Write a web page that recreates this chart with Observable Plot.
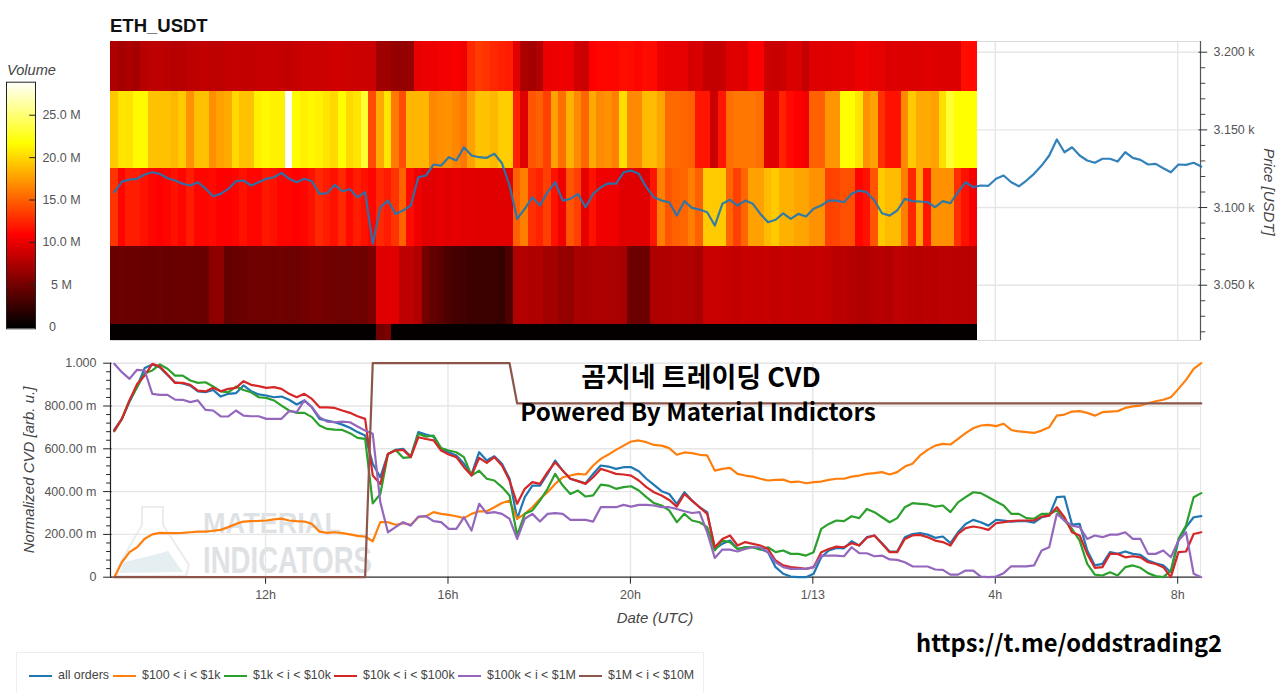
<!DOCTYPE html>
<html><head><meta charset="utf-8">
<script src="https://cdn.jsdelivr.net/npm/d3@7"></script>
<script src="https://cdn.jsdelivr.net/npm/@observablehq/plot@0.6"></script>
<style>
html,body{margin:0;padding:0;background:#fff;width:1280px;height:693px;overflow:hidden;font-family:"Liberation Sans",Arial,sans-serif}
.abs{position:absolute;white-space:nowrap}
.ax{color:#444;font-style:italic;font-size:15px}
.ko{color:#000;font-family:"Noto Sans CJK KR","Noto Sans",sans-serif;font-weight:700}
#legend{position:absolute;left:16px;top:652px;width:688px;height:41px;border:1px solid #eee;border-bottom:none;box-sizing:border-box;color:#444;font-size:12.4px}
#legend span.s{position:absolute;top:22px;height:2px;width:23px}
#legend span.t{position:absolute;top:15px;white-space:nowrap}
</style></head><body>
<svg class="abs" style="left:0;top:0;z-index:0" width="1280" height="693" aria-hidden="true">
  <path d="M117 576 L119 565 L142 525 L142 507 L163 507 L163 525 L189 565 L186 576 Z" fill="none" stroke="#ececec" stroke-width="2"/>
  <path d="M119 573 L124 562 L150 556 L168 551 L183 572 Z" fill="#e5eff1"/>
  <text x="203" y="533" font-family="Liberation Sans Narrow,Liberation Sans" font-weight="700" font-size="29" fill="#dfe2e5" textLength="138" lengthAdjust="spacingAndGlyphs">MATERIAL</text>
  <text x="203" y="573" font-family="Liberation Sans Narrow,Liberation Sans" font-weight="700" font-size="37" fill="#dfe2e5" textLength="169" lengthAdjust="spacingAndGlyphs">INDICATORS</text>
</svg>
<div id="upper" class="abs" style="left:0;top:0;z-index:1"></div>
<div id="lower" class="abs" style="left:0;top:345px;z-index:1"></div>
<div id="bar" class="abs" style="left:0;top:75px;z-index:1"></div>
<div class="abs" style="left:110px;top:15px;font-weight:700;font-size:18.5px;color:#111;z-index:2">ETH_USDT</div>
<div class="abs ax" style="left:7px;top:62px;font-size:14.6px;z-index:2">Volume</div>
<div class="abs ax" style="left:28px;top:470px;transform:translate(-50%,-50%) rotate(-90deg);z-index:2">Normalized CVD [arb. u.]</div>
<div class="abs ax" style="left:655px;top:617px;transform:translate(-50%,-50%);z-index:2">Date (UTC)</div>
<div class="abs ax" style="left:1269px;top:192px;transform:translate(-50%,-50%) rotate(90deg);z-index:2">Price [USDT]</div>
<div class="abs ko" style="left:701px;top:375px;transform:translate(-50%,-50%);font-size:27px;z-index:3">곰지네 트레이딩 CVD</div>
<div class="abs ko" style="left:698px;top:410px;transform:translate(-50%,-50%);font-size:24.2px;z-index:3">Powered By Material Indictors</div>
<div class="abs ko" style="left:1069px;top:642px;transform:translate(-50%,-50%);font-size:23.7px;z-index:3">https://t.me/oddstrading2</div>
<div id="legend"></div>
<script>
const priceUSDT = [
3109.9,3116.7,3118,3118.5,3121.3,3122.7,3121.7,3118.9,3117.4,3115.3,
3114.2,3116.3,3112.2,3107.3,3108.8,3112,3116.9,3117.4,3114.2,3116.3,
3118.5,3119.5,3122.3,3118.5,3116.3,3118.5,3116.9,3108.8,3109.2,3114.6,
3110.5,3111.8,3106.6,3109.9,3076.6,3100.2,3104.5,3095.9,3098.1,3101.3,
3119.5,3120.6,3127.7,3127,3132.4,3130.3,3138.8,3133.5,3132.4,3132,
3134.6,3128.5,3114.2,3092.7,3099.2,3106.6,3101.3,3109.9,3116.3,3104.5,
3105.6,3108.8,3100.2,3108.8,3113.1,3115.6,3115.3,3122.7,3123.8,3121.7,
3113.1,3106.6,3104.5,3103.4,3094.8,3104.1,3099.8,3098.7,3097,3088.4,
3102.4,3105,3101.3,3104.5,3102.4,3095.9,3090.5,3092.1,3096.3,3092.7,
3095.9,3094.2,3099.2,3101.3,3104.5,3104.5,3103.4,3108.8,3110.9,3109.9,
3104.5,3096.3,3094.8,3098.1,3105.6,3104.1,3103.9,3103.4,3100.2,3104.1,
3102.8,3109.9,3116.3,3113.1,3114.2,3114,3118.5,3120.6,3116.3,3113.7,
3117.4,3121.7,3127,3133.5,3143.8,3135.6,3138.8,3133.5,3130.3,3128.8,
3131.4,3131.4,3129.6,3135.6,3132,3130.7,3127.7,3128.1,3125.3,3122.7,
3127.7,3127.5,3128.8,3126.4];

const volTop = [
7.4,7,7.3,7,7.8,8,8,7.9,7.6,7.8,
8,8,8.2,8,8,8.2,8.3,8.2,8.2,8.3,
8.4,8.4,8.3,8.2,8.3,8.6,8.6,8.6,8.6,8.8,
8.8,8.6,8.6,8.6,8.6,6.8,6.8,6.2,6.2,6.3,
9.8,10,10,10.3,10.3,10.5,10.2,12.5,13.3,13,
12.5,12.2,12,9.5,7.2,7,7.5,10,10,10.2,
10,8.8,8.6,10.8,11,11,11,11.4,11.3,11,
11.3,11.2,10,9.8,9.8,9.8,9,9.2,8.4,8.2,
8.4,9.4,9.5,9.3,10.6,10.6,8.6,8.5,8.6,9.2,
9.2,8.3,9.4,9.5,9.4,9.5,9.6,9.5,10,10,
9.8,9.8,9.3,9.4,9.3,9.3,9.3,9.5,9.4,9.3,
9.3,9.4,11.4,11.2];
const volHigh = [
19.3,20.5,20.4,21.4,21.4,19,19,19,18.6,19.4,
17,18.9,19,16.8,17.6,18,20,19,19,21,
21.3,21,21,28.8,21.5,21,21.3,21,20.5,20,
21.5,20,20.5,23,14,18,20.5,16,14,18.5,
18.5,18.5,16.5,16.8,17,16.5,15.8,17.6,19,19,
18.6,19.5,19.5,12.2,9.5,14.4,14.9,13.5,17.6,15.5,
18.3,16.6,15.1,18,16.6,16.9,16.2,20.2,16.6,16.6,
18.7,18.7,17.8,15.3,15.3,15.1,14.9,11.7,11.7,8.6,
11.7,15.5,15.8,15.8,15.8,15.5,9.5,9.5,12.2,11.2,
10.8,10.2,14.9,14.9,17.1,17.1,21.6,21.6,20.5,16.9,
17.6,12.8,11.5,11.5,16.6,19.4,18,18,17.6,20.2,
23,21.6,21.6,21.6];
const volMid = [
13,11,12,12,11.5,11,10.8,11,11.5,11,
12,11,11,11.2,10.8,10.8,11,11.5,11,11,
11.8,11.5,11,11,10.8,11,11.5,12.5,12,11.5,
12.5,11.2,12,11.5,11,12.5,12,13,15,11.2,
10.2,9.6,9.6,9.8,9.6,9.8,9.6,9.6,9.5,9.6,
9.5,9.5,9.5,14.9,16.2,12.8,12.2,13.5,11.5,10.2,
14.4,13.5,9.8,11.5,10.2,10.2,10.2,9.5,9.5,9.5,
9.5,11.7,16.2,14.4,14.9,15.1,16.2,14.9,19.4,19.4,
19.4,15.1,13.5,15.1,17.6,17.6,18.7,19.4,18.3,18.3,
17.8,17.8,17,17,13.5,13.7,14.2,14.2,11,11.5,
14.4,19.4,18.7,18.7,16.2,12.4,17.8,11.7,16.9,16.9,
16.9,12.8,11.5,10.4];
const volLow = [
4.4,4.6,4.5,4.5,4.4,4.4,4.5,4.3,4.4,4.4,
4.5,4.4,4.4,6,6,4.2,4.4,4.5,4.7,4.7,
4.7,4.7,4.8,4.6,4.6,4.8,5,5,4.8,4.8,
4.6,4.6,4.8,4.6,5.2,9.5,9.5,9.5,8,8,
7.5,5,4.2,3.8,3.2,2.9,2.8,2.6,2.6,2.6,
2.5,2.2,3.2,7.5,7.6,7.4,7.5,6.9,6.9,6.3,
6.2,7.2,7.1,7.2,7.2,7.2,7.2,7.1,4.7,4.5,
4.6,7.3,7.5,7.5,7.6,7.5,7.5,7.1,8.5,8.5,
8.5,8.3,8.2,8.5,8.4,8.4,8.5,8.2,8.3,8.4,
8.2,8.3,8.2,8.4,8.2,7.9,7.9,7.7,7.5,7.4,
7.7,7.8,7.6,8,7.9,7.8,7.7,7.9,7.8,8,
8,7.9,7.9,7.8];
const volBottom = [
.2,.2,.2,.2,.2,.2,.2,.2,.2,.2,
.2,.2,.2,.2,.2,.2,.2,.2,.2,.2,
.2,.2,.2,.2,.2,.2,.2,.2,.2,.2,
.2,.2,.2,.2,.2,4.8,5.2,.2,.2,.2,
.2,.2,.2,.2,.2,.2,.2,.2,.2,.2,
.2,.2,.2,.2,.2,.2,.2,.2,.2,.2,
.2,.2,.2,.2,.2,.2,.2,.2,.2,.2,
.2,.2,.2,.2,.2,.2,.2,.2,.2,.2,
.2,.2,.2,.2,.2,.2,.2,.2,.2,.2,
.2,.2,.2,.2,.2,.2,.2,.2,.2,.2,
.2,.2,.2,.2,.2,.2,.2,.2,.2,.2,
.2,.2,.2,.2];
const priceBandEdges = [3206.9,3175,3125,3075,3025,3014.4];

const cvdAll = [
.69,.74,.82,.89,.978,.994,.98,.945,.91,.905,
.895,.868,.865,.875,.844,.857,.86,.896,.869,.854,
.849,.841,.844,.829,.807,.826,.794,.74,.732,.724,
.713,.698,.678,.662,.53,.467,.576,.595,.6,.564,
.678,.667,.657,.6,.584,.569,.53,.48,.584,.545,
.565,.53,.46,.273,.374,.428,.428,.483,.545,.498,
.46,.449,.439,.483,.522,.517,.506,.514,.514,.495,
.46,.431,.402,.389,.343,.397,.358,.327,.304,.132,
.156,.171,.132,.14,.14,.132,.117,.047,.016,.003,
0,0,.016,.093,.125,.137,.135,.168,.148,.187,
.195,.159,.12,.12,.187,.202,.206,.199,.184,.19,
.159,.21,.249,.268,.257,.241,.268,.265,.26,.262,
.262,.255,.28,.288,.374,.377,.246,.249,.125,.055,
.062,.117,.109,.12,.109,.104,.078,.065,.055,.023,
.171,.234,.28,.285];
const cvd100to1k = [
0,.07,.117,.14,.18,.2,.207,.206,.206,.207,
.21,.213,.213,.217,.221,.234,.249,.26,.262,.263,
.265,.27,.274,.265,.262,.26,.249,.213,.207,.21,
.206,.2,.193,.19,.168,.257,.257,.245,.252,.245,
.28,.285,.304,.296,.291,.285,.276,.296,.308,.308,
.327,.347,.358,.273,.296,.327,.366,.397,.436,.467,
.475,.483,.48,.522,.553,.573,.595,.615,.634,.639,
.631,.618,.615,.603,.572,.583,.58,.572,.569,.498,
.506,.511,.483,.475,.47,.46,.452,.455,.456,.444,
.447,.439,.444,.447,.455,.46,.46,.47,.475,.483,
.486,.491,.48,.491,.517,.53,.569,.595,.615,.623,
.62,.646,.673,.696,.709,.712,.706,.717,.688,.681,
.678,.674,.685,.701,.755,.76,.774,.776,.768,.755,
.771,.774,.776,.791,.798,.802,.813,.822,.829,.841,
.88,.922,.974,1];
const cvd1kto10k = [
.682,.74,.826,.888,.953,.966,.994,.974,.942,.942,
.919,.908,.911,.891,.868,.864,.891,.875,.864,.841,
.838,.826,.802,.779,.768,.768,.748,.709,.693,.69,
.688,.673,.651,.646,.345,.389,.576,.595,.558,.561,
.67,.657,.662,.603,.592,.584,.561,.475,.498,.46,
.452,.421,.382,.195,.296,.312,.358,.413,.483,.428,
.389,.405,.377,.382,.433,.428,.413,.421,.425,.405,
.374,.346,.335,.312,.257,.296,.265,.257,.234,.125,
.171,.164,.132,.14,.14,.129,.14,.117,.125,.109,
.109,.101,.117,.226,.249,.265,.262,.285,.276,.319,
.304,.28,.257,.276,.327,.346,.343,.34,.33,.335,
.304,.35,.374,.397,.393,.374,.354,.335,.296,.296,
.276,.273,.296,.296,.312,.265,.226,.171,.062,.012,
.008,.023,.008,.047,.055,.044,.019,.005,0,.031,
.179,.241,.374,.393];
const cvd10kto100k = [
.685,.74,.826,.903,.942,.997,.984,.947,.908,.908,
.899,.872,.868,.885,.869,.88,.885,.916,.899,.893,
.885,.888,.88,.857,.841,.857,.833,.794,.794,.791,
.779,.768,.752,.74,.475,.436,.576,.592,.595,.561,
.654,.646,.639,.592,.573,.561,.514,.475,.558,.534,
.561,.522,.452,.343,.413,.444,.436,.491,.537,.498,
.46,.449,.436,.467,.506,.495,.483,.48,.475,.452,
.421,.397,.382,.361,.33,.389,.358,.327,.296,.14,
.179,.195,.148,.164,.156,.148,.132,.078,.055,.047,
.044,.039,.047,.117,.132,.143,.14,.159,.148,.184,
.195,.156,.117,.117,.179,.195,.198,.187,.171,.164,
.148,.202,.229,.237,.231,.221,.252,.257,.262,.265,
.265,.265,.283,.288,.327,.28,.21,.195,.109,.044,
.047,.109,.109,.093,.098,.093,.07,.062,.047,0,
.117,.12,.202,.21];
const cvd100kto1M = [
.997,.958,.927,.969,.966,.857,.852,.852,.83,.829,
.818,.826,.782,.779,.751,.751,.779,.755,.752,.752,
.74,.74,.74,.776,.771,.826,.794,.748,.727,.724,
.727,.724,.704,.685,.67,.35,.21,.234,.257,.241,
.283,.285,.262,.257,.226,.226,.28,.218,.343,.299,
.304,.296,.273,.179,.273,.296,.26,.296,.299,.296,
.268,.268,.268,.26,.327,.327,.327,.338,.33,.338,
.338,.335,.327,.327,.319,.308,.3,.304,.21,.09,
.129,.129,.12,.132,.14,.14,.117,.07,.047,.039,
.039,.039,.047,.101,.101,.101,.098,.14,.112,.112,
.098,.101,.083,.081,.07,.051,.05,.05,.036,.034,
.012,.012,.031,.031,.003,0,.003,.019,.051,.051,
.051,.055,.125,.14,.296,.265,.241,.234,.179,.195,
.187,.199,.199,.21,.179,.179,.109,.109,.125,.093,
.171,.21,.016,0];
const cvd1Mto10M = [
0,0,0,0,0,0,0,0,0,0,
0,0,0,0,0,0,0,0,0,0,
0,0,0,0,0,0,0,0,0,0,
0,0,0,0,1,1,1,1,1,1,
1,1,1,1,1,1,1,1,1,1,
1,1,1,.812,.812,.812,.812,.812,.812,.812,
.812,.812,.812,.812,.812,.812,.812,.812,.812,.812,
.812,.812,.812,.812,.812,.812,.812,.812,.812,.812,
.812,.812,.812,.812,.812,.812,.812,.812,.812,.812,
.812,.812,.812,.812,.812,.812,.812,.812,.812,.812,
.812,.812,.812,.812,.812,.812,.812,.812,.812,.812,
.812,.812,.812,.812,.812,.812,.812,.812,.812,.812,
.812,.812,.812,.812,.812,.812,.812,.812,.812,.812,
.812,.812,.812,.812,.812,.812,.812,.812,.812,.812,
.812,.812,.812,.812];

const seriesNames = ["all orders","$100 < i < $1k","$1k < i < $10k","$10k < i < $100k","$100k < i < $1M","$1M < i < $10M"];
const seriesColors = ["#1f77b4","#ff7f0e","#2ca02c","#d62728","#9467bd","#8c564b"];
const seriesValues = [cvdAll,cvd100to1k,cvd1kto10k,cvd10kto100k,cvd100kto1M,cvd1Mto10M];
const legendSwatchX = [28,112,223,333,457,578];
const legendTextX = [57,141,252,362,486,607];

const tickDates = [Date.UTC(2022,0,12,12),Date.UTC(2022,0,12,16),Date.UTC(2022,0,12,20),Date.UTC(2022,0,13,0),Date.UTC(2022,0,13,4),Date.UTC(2022,0,13,8)].map(d=>new Date(d));
const tickLabels = ["12h","16h","20h","1/13","4h","8h"];
const priceTicks = [3050,3100,3150,3200];
const priceMinor = [3020,3030,3040,3060,3070,3080,3090,3110,3120,3130,3140,3160,3170,3180,3190];
const cvdTicks = [0,.2,.4,.6,.8,1];
const cvdMinor = [.04,.08,.12,.16,.24,.28,.32,.36,.44,.48,.52,.56,.64,.68,.72,.76,.84,.88,.92,.96];
const volumeTicks = [0,5,10,15,20,25];

const MIN = 60000;
const start = Date.UTC(2022,0,12,8,41);
const at = k => new Date(start + k*10*MIN);
const xDomain = [new Date(Date.UTC(2022,0,12,8,36)), new Date(Date.UTC(2022,0,13,8,30))];
const labelOf = new Map(tickDates.map((d,i)=>[+d,tickLabels[i]]));
const xFmt = d => labelOf.get(+d) ?? "";
// a tick's length along the time axis, in minutes from an edge of the frame (45.6 px per hour)
const off = (edge,mins) => new Date(+edge + mins*MIN);
const colorScale = {type:"linear",domain:[0,10.8,21.6,28.9],range:["#000000","#ff0000","#ffff00","#ffffff"]};
const font = {fontFamily:"'Liberation Sans',Arial,sans-serif",fontSize:"12.5px",background:"transparent",color:"#444",overflow:"visible"};
const gridStyle = {stroke:"#e6e6e6",strokeOpacity:1,strokeWidth:1.4};

const bands = [volTop,volHigh,volMid,volLow,volBottom];
const cells = [];
bands.forEach((vals,b)=>vals.forEach((v,k)=>cells.push({
  t1:new Date(+at(k)-5*MIN),t2:new Date(+at(k)+5*MIN),
  p1:priceBandEdges[b],p2:priceBandEdges[b+1],v})));
const priceRows = priceUSDT.map((p,k)=>({t:at(k),p}));

const upper = Plot.plot({
  width:1280,height:345,marginLeft:110,marginRight:80,marginTop:41,marginBottom:5,
  style:font,
  x:{type:"utc",domain:xDomain,axis:null},
  y:{domain:[3014.4,3206.9],axis:null},
  color:colorScale,
  marks:[
    Plot.gridX(tickDates,gridStyle),
    Plot.gridY(priceTicks,gridStyle),
    Plot.frame({stroke:"#dcdcdc"}),
    Plot.rect(cells,{x1:"t1",x2:"t2",y1:"p1",y2:"p2",fill:"v",shapeRendering:"crispEdges"}),
    Plot.ruleX([xDomain[1]],{stroke:"#555",strokeWidth:1.2}),
    Plot.ruleY(priceMinor,{x1:off(xDomain[1],0),x2:off(xDomain[1],7),stroke:"#444"}),
    Plot.ruleY(priceTicks,{x1:off(xDomain[1],-2),x2:off(xDomain[1],9.5),stroke:"#333"}),
    Plot.axisY(priceTicks,{anchor:"right",tickSize:0,tickPadding:13,fill:"#555",
      tickFormat:d=>d3.format(".3f")(d/1000)+" k",label:null}),
    Plot.line(priceRows,{x:"t",y:"p",stroke:"#1f77b4",strokeWidth:2.2,strokeOpacity:.92})
  ]
});
document.getElementById("upper").append(upper);

const long = seriesValues.flatMap((vals,s)=>vals.map((v,k)=>({t:at(k),v,s:seriesNames[s]})));
const lower = Plot.plot({
  width:1280,height:290,marginLeft:110,marginRight:80,marginTop:17.7,marginBottom:58.3,
  style:font,
  x:{type:"utc",domain:xDomain,axis:null},
  y:{domain:[0,1],axis:null},
  color:{domain:seriesNames,range:seriesColors},
  marks:[
    Plot.gridX(tickDates,gridStyle),
    Plot.gridY(cvdTicks,gridStyle),
    Plot.frame({stroke:"#e6e6e6"}),
    Plot.ruleX([xDomain[0]],{stroke:"#222",strokeWidth:1.2}),
    Plot.ruleY([0],{stroke:"#333",strokeWidth:1.2}),
    Plot.ruleY(cvdMinor,{x1:off(xDomain[0],-5),x2:off(xDomain[0],1),stroke:"#222"}),
    Plot.ruleY(cvdTicks,{x1:off(xDomain[0],-9),x2:off(xDomain[0],2),stroke:"#222"}),
    Plot.axisY(cvdTicks,{anchor:"left",tickSize:0,tickPadding:14,fill:"#555",label:null,
      tickFormat:v=>v===0?"0":v===1?"1.000":(v*1000).toFixed(2)+" m"}),
    Plot.axisX(tickDates,{anchor:"bottom",tickSize:7,tickPadding:6,stroke:"#222",fill:"#555",label:null,tickFormat:xFmt}),
    ...seriesNames.map(name=>Plot.line(long.filter(d=>d.s===name),{x:"t",y:"v",stroke:"s",strokeWidth:2.2}))
  ]
});
document.getElementById("lower").append(lower);

const ramp = d3.range(-0.2,28.9,0.1);
const fmtVol = d => d===0?"0":d===5?"5 M":d.toFixed(1)+" M";
const bar = Plot.plot({
  width:90,height:260,marginLeft:6,marginRight:55,marginTop:6.7,marginBottom:6.7,
  style:font,
  x:{domain:[0,1],axis:null},
  y:{domain:[-0.2,28.9],axis:null},
  color:colorScale,
  marks:[
    Plot.rect(ramp,{x1:0,x2:1,y1:d=>d,y2:d=>d+0.12,fill:d=>d,shapeRendering:"crispEdges"}),
    Plot.frame({stroke:"#222"}),
    Plot.ruleY(volumeTicks.slice(1),{x1:.8,x2:1,stroke:"#222"}),
    Plot.text(volumeTicks.filter(d=>d>=5),{x:1,y:d=>d,text:fmtVol,textAnchor:"middle",dx:26,fill:"#555"}),
    Plot.text([0],{x:1,y:d=>d,text:fmtVol,textAnchor:"middle",dx:17,fill:"#555"})
  ]
});
document.getElementById("bar").append(bar);

const legend = document.getElementById("legend");
seriesNames.forEach((n,i)=>{
  const s=document.createElement("span");s.className="s";s.style.left=(legendSwatchX[i]-16)+"px";s.style.background=seriesColors[i];
  const t=document.createElement("span");t.className="t";t.style.left=(legendTextX[i]-16)+"px";t.textContent=n;
  legend.append(s,t);
});
</script>
</body></html>
